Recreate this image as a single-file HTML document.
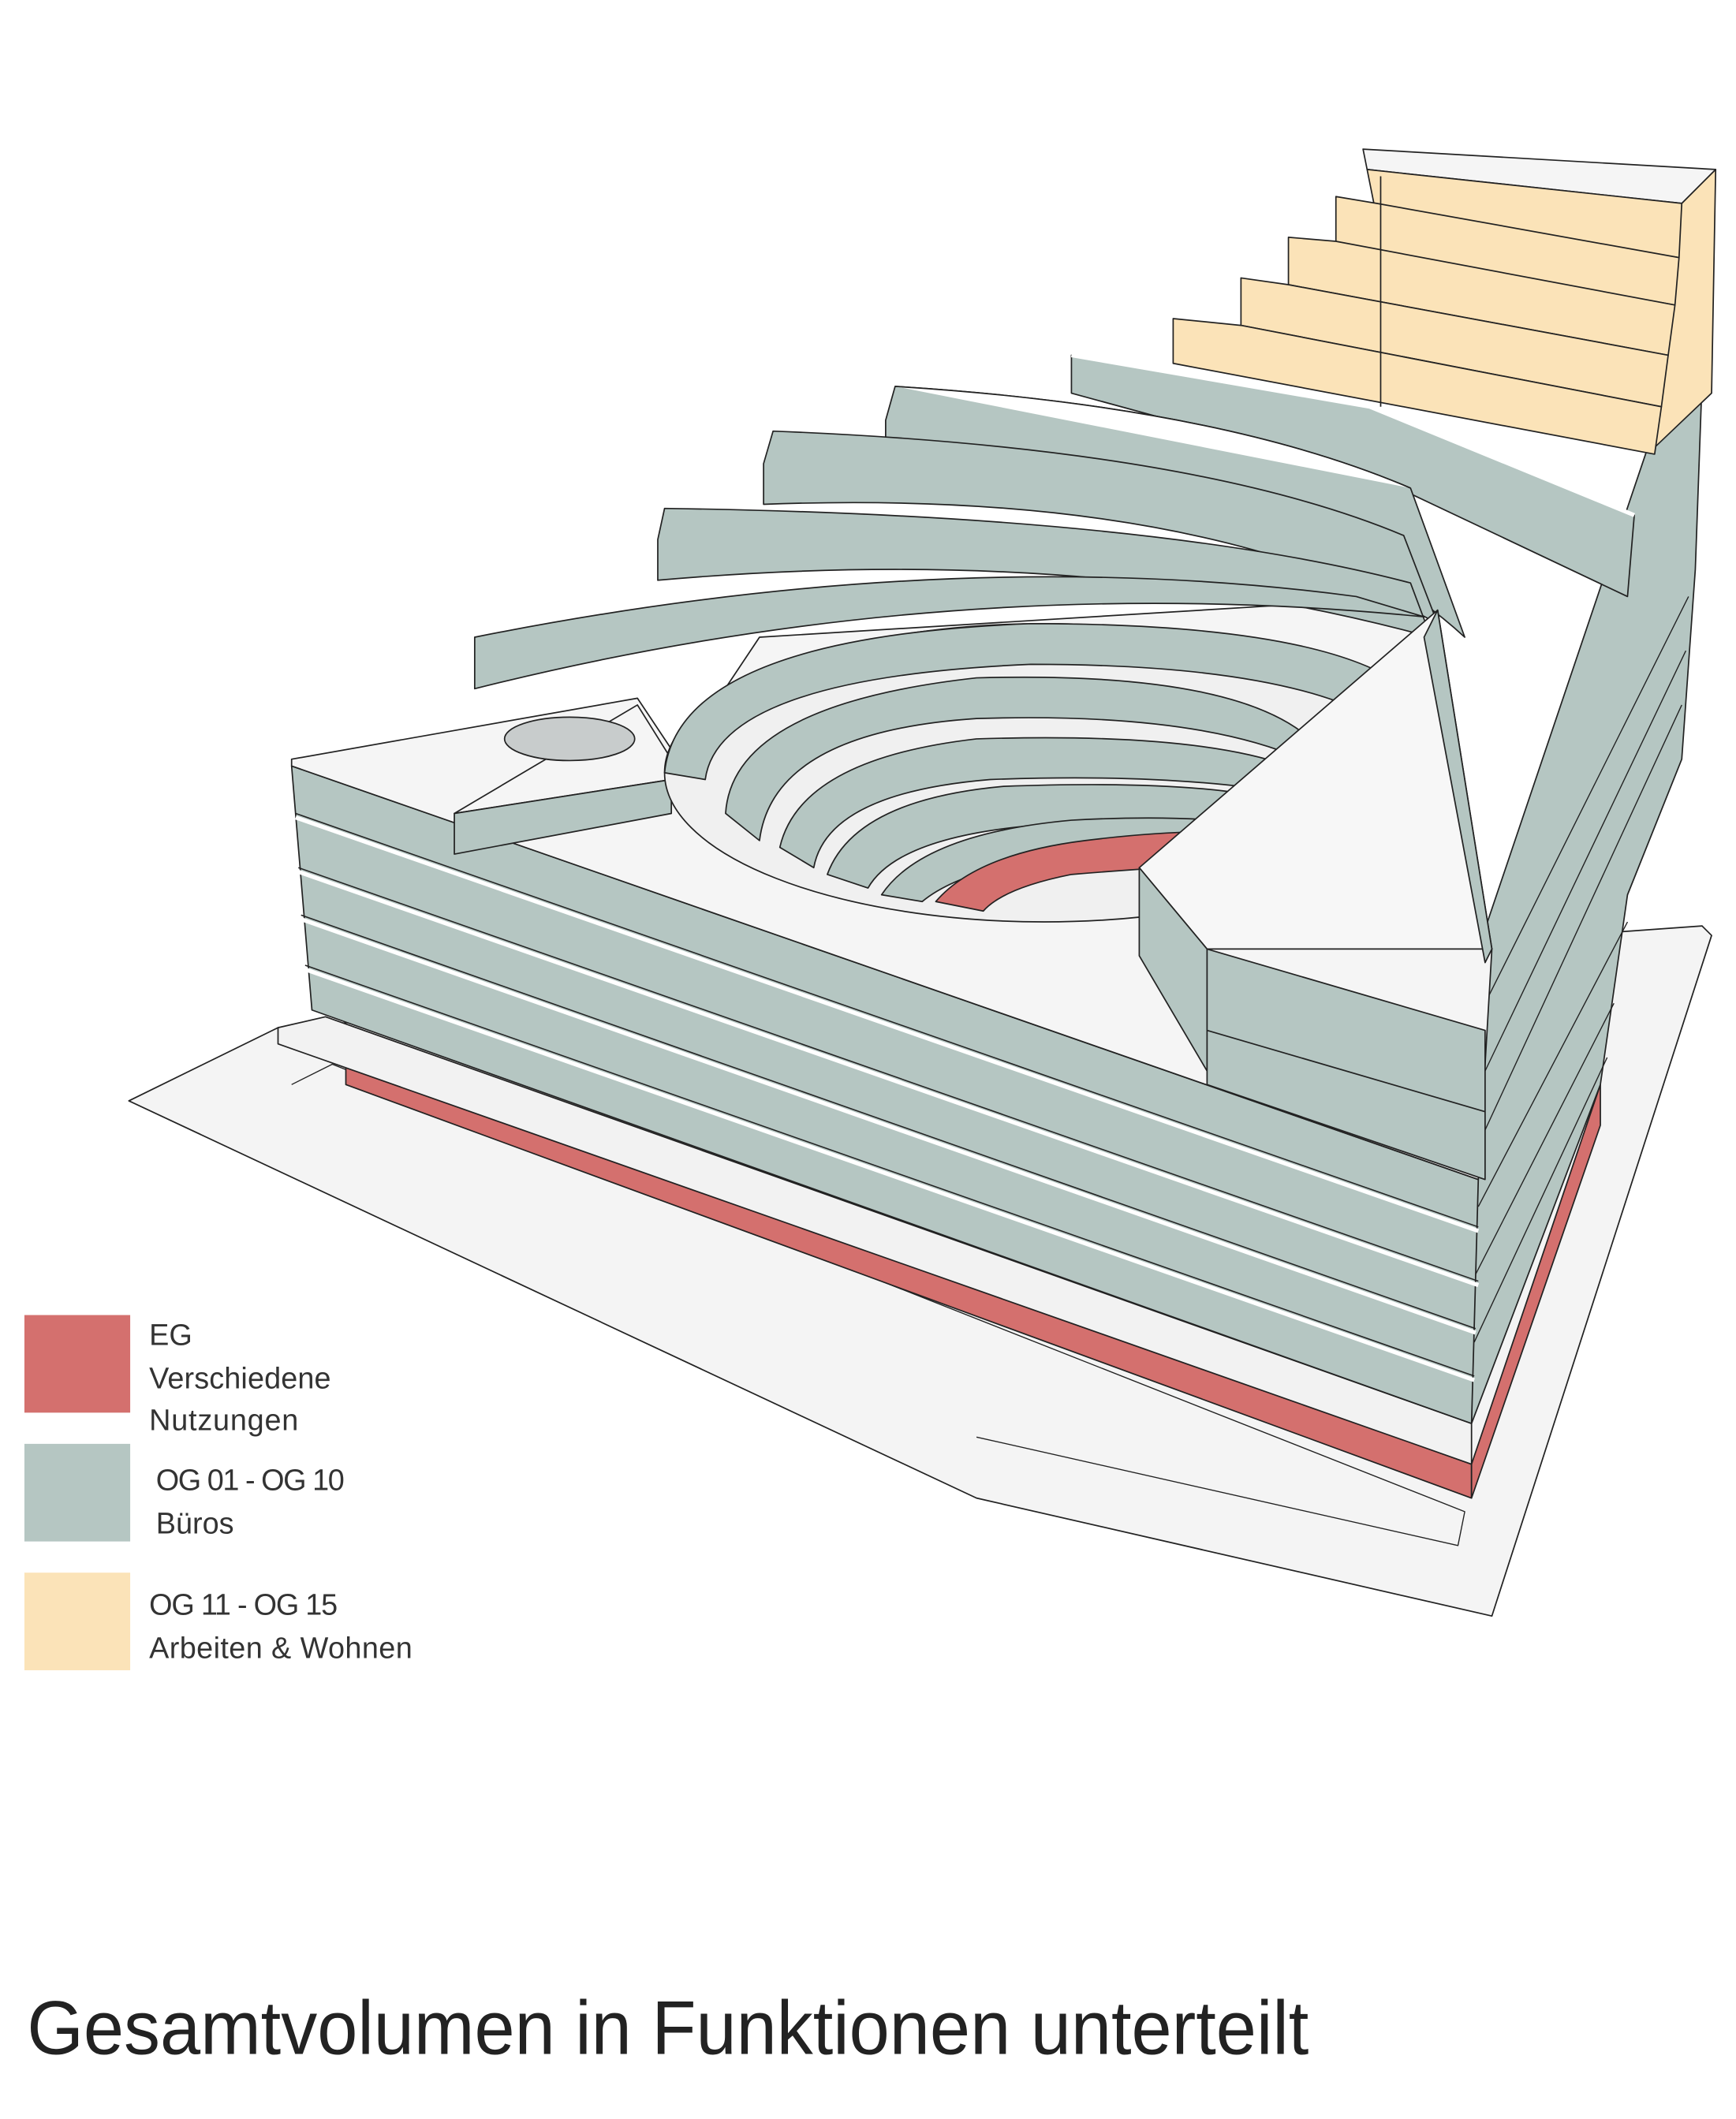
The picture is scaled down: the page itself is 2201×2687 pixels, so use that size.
<!DOCTYPE html>
<html><head><meta charset="utf-8"><style>
html,body{margin:0;padding:0;background:#fff;}
svg{display:block;}
</style></head><body>
<svg width="2201" height="2687" viewBox="0 0 1280 1563" preserveAspectRatio="none" xmlns="http://www.w3.org/2000/svg">
<rect width="1280" height="1563" fill="#fff"/>
<g stroke="#222" stroke-width="1" stroke-linejoin="round">
<!-- ground plate -->
<polygon points="95,812 205,758 1255,683 1262,690 1100,1192 720,1105" fill="#f4f4f4"/>
<polyline points="215,800 245,785 1080,1115 1075,1140 720,1060" fill="none" stroke-width="0.8"/>
<!-- red base -->
<polygon points="255,783 1085,1080 1085,1105 255,800" fill="#d4706e"/>
<polygon points="1085,1080 1180,800 1180,830 1085,1105" fill="#d4706e"/>
<polygon points="205,758 240,750 1085,1050 1085,1080 205,770" fill="#f2f2f2"/>
<!-- right face of building -->
<polygon points="1090,700 1215,330 1255,280 1250,420 1240,560 1200,660 1180,800 1085,1050" fill="#b5c6c2"/>
<g stroke-width="0.8">
<line x1="1095" y1="740" x2="1245" y2="440"/>
<line x1="1095" y1="790" x2="1243" y2="480"/>
<line x1="1092" y1="840" x2="1240" y2="520"/>
<line x1="1090" y1="890" x2="1200" y2="680"/>
<line x1="1088" y1="940" x2="1190" y2="740"/>
<line x1="1087" y1="990" x2="1185" y2="780"/>
</g>
<!-- front face -->
<polygon points="215,565 1090,870 1085,1050 230,745" fill="#b5c6c2"/>
<g stroke-width="0.9">
<polyline points="218,600 1090,905"/>
<polyline points="220,640 1090,945"/>
<polyline points="222,675 1088,980"/>
<polyline points="225,712 1087,1015"/>
</g>
<g stroke="#fff" stroke-width="3">
<polyline points="218,603 1090,908"/>
<polyline points="220,643 1090,948"/>
<polyline points="222,678 1088,983"/>
<polyline points="225,715 1087,1018"/>
</g>
<!-- roof plate -->
<polygon points="215,560 470,515 500,560 560,470 1050,440 1100,700 1090,870 215,565" fill="#f5f5f5"/>
<!-- terraces (back to front) -->
<path d="M790,262 L1010,300 L1205,380 L1200,440 L1010,350 L790,290 Z" fill="#b5c6c2"/>
<path d="M790,262 L1010,300 L1205,380" fill="none" stroke="#fff" stroke-width="3"/>
<path d="M653,310 L660,285 Q900,300 1040,360 L1080,470 Q950,350 653,335 Z" fill="#b5c6c2"/>
<path d="M660,285 Q900,300 1040,360" fill="#fff" stroke-width="1"/>
<path d="M563,342 L570,318 Q880,330 1035,395 L1060,460 Q880,360 563,372 Z" fill="#b5c6c2"/>
<path d="M485,398 L490,375 Q850,380 1040,430 L1055,470 Q800,400 485,428 Z" fill="#b5c6c2"/>
<path d="M350,478 L350,470 Q700,400 1000,440 L1050,455 Q700,420 350,508 Z" fill="#b5c6c2"/>
<!-- arm with circle -->
<polygon points="335,600 495,575 495,560 470,520 335,600" fill="#f5f5f5"/>
<polygon points="335,600 495,575 495,600 335,630" fill="#b5c6c2"/>
<ellipse cx="420" cy="545" rx="48" ry="16" fill="#c8cccc"/>
<!-- oval hole -->
<ellipse cx="770" cy="570" rx="280" ry="110" fill="#f0f0f0"/>
<path d="M490,570 Q500,470 760,460 Q1000,460 1050,520 L1050,560 Q1000,490 760,490 Q530,500 520,575 Z" fill="#b5c6c2"/>
<path d="M535,600 Q540,520 720,500 Q900,495 960,540 L960,560 Q880,525 720,530 Q570,540 560,620 Z" fill="#b5c6c2"/>
<path d="M575,625 Q590,560 720,545 Q880,540 950,565 L950,585 Q860,570 730,575 Q610,585 600,640 Z" fill="#b5c6c2"/>
<path d="M610,645 Q630,590 740,580 Q880,575 940,590 L940,610 Q850,600 750,610 Q660,620 640,655 Z" fill="#b5c6c2"/>
<path d="M650,660 Q680,615 790,605 Q880,600 940,610 L940,625 Q860,625 790,630 Q710,640 680,665 Z" fill="#b5c6c2"/>
<path d="M690,665 Q720,630 800,620 Q880,610 940,615 L940,635 Q850,640 790,645 Q740,655 725,672 Z" fill="#d4706e"/>
<!-- triangle block -->
<polygon points="840,640 1060,450 1100,700 890,700" fill="#f7f7f7"/>
<polygon points="1060,450 1100,700 1095,710 1050,470" fill="#b5c6c2"/>
<polygon points="840,640 890,700 890,790 840,705" fill="#b5c6c2"/>
<polygon points="890,700 1095,760 1095,870 890,800" fill="#b5c6c2"/>
<line x1="890" y1="760" x2="1095" y2="820"/>
<!-- yellow tower -->
<polygon points="1240,150 1265,125 1262,290 1220,330" fill="#fbe3b8"/>
<polygon points="1005,110 1265,125 1240,150 1008,125" fill="#f5f5f5"/>
<polygon points="1008,125 1240,150 1238,190 1015,160" fill="#fbe3b8"/>
<polygon points="985,145 1015,150 1238,190 1235,225 985,180" fill="#fbe3b8"/>
<polygon points="950,175 985,178 1235,225 1230,262 950,210" fill="#fbe3b8"/>
<polygon points="915,205 950,210 1230,262 1225,300 915,240" fill="#fbe3b8"/>
<polygon points="865,235 915,240 1225,300 1220,335 865,268" fill="#fbe3b8"/>
<line x1="1018" y1="130" x2="1018" y2="300"/>
</g>
<!-- legend -->
<rect x="18" y="970" width="78" height="72" fill="#d4706e"/>
<rect x="18" y="1065" width="78" height="72" fill="#b5c6c2"/>
<rect x="18" y="1160" width="78" height="72" fill="#fbe3b8"/>
<g font-family="Liberation Sans, sans-serif" font-size="22" fill="#333">
<text x="110" y="992">EG</text>
<text x="110" y="1024" textLength="134">Verschiedene</text>
<text x="110" y="1055" textLength="110">Nutzungen</text>
<text x="115" y="1099" textLength="139">OG 01 - OG 10</text>
<text x="115" y="1131">Büros</text>
<text x="110" y="1191" textLength="139">OG 11 - OG 15</text>
<text x="110" y="1223" textLength="194">Arbeiten &amp; Wohnen</text>
</g>
<text x="20" y="1515" font-family="Liberation Sans, sans-serif" font-size="56" fill="#222" textLength="945" lengthAdjust="spacingAndGlyphs">Gesamtvolumen in Funktionen unterteilt</text>
</svg>
</body></html>
